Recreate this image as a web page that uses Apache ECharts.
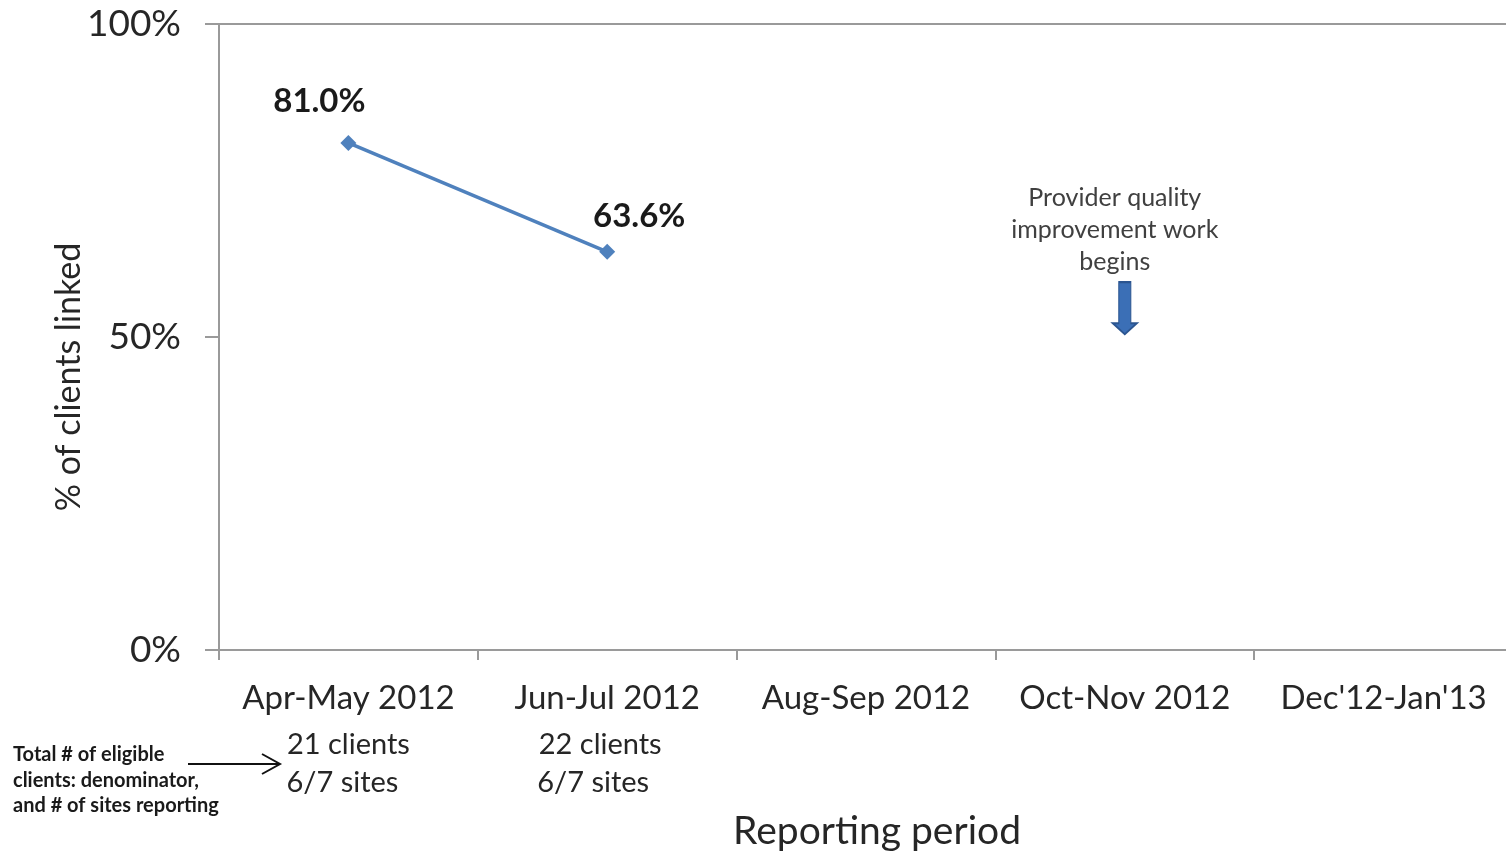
<!DOCTYPE html>
<html>
<head>
<meta charset="utf-8">
<script src="https://cdn.jsdelivr.net/npm/echarts@6/dist/echarts.min.js"></script>
<style>
html,body{margin:0;padding:0;background:#fff;overflow:hidden;}
#chart{width:1506px;height:853px;}
</style>
</head>
<body>
<div id="chart"></div>
<script>
const categories = ['Apr-May 2012', 'Jun-Jul 2012', 'Aug-Sep 2012', 'Oct-Nov 2012', "Dec'12-Jan'13"];
const pctLinked = [81.0, 63.6, null, null, null];
const clientCounts = [21, 22, null, null, null];
const sitesReporting = ['6/7', '6/7', null, null, null];
const yTicks = [0, 50, 100];
const annotationText = 'Provider quality\nimprovement work\nbegins';
const annotationCategory = 'Oct-Nov 2012';
const legendNote = 'Total # of eligible\nclients: denominator,\nand # of sites reporting';

const FONT = 'Lato';
const chart = echarts.init(document.getElementById('chart'), null, { width: 1506, height: 853 });

const option = {
  backgroundColor: '#fff',
  animation: false,
  textStyle: { fontFamily: FONT },
  grid: { left: 219, width: 1294, top: 24, height: 626, containLabel: false, outerBoundsMode: 'none' },
  xAxis: {
    type: 'category',
    data: categories,
    boundaryGap: true,
    axisLine: { lineStyle: { color: '#9a9a9a', width: 2 } },
    axisTick: { show: true, length: 10, lineStyle: { color: '#9a9a9a', width: 2 } },
    axisLabel: {
      margin: 26,
      color: '#262626',
      formatter: function (v, i) {
        if (clientCounts[i] != null) {
          const k = i === 0 ? 'a' : 'b';
          return '{c|' + v + '}\n{n' + k + '|' + clientCounts[i] + ' clients}\n{s' + k + '|' + sitesReporting[i] + ' sites}';
        }
        return '{c|' + v + '}';
      },
      rich: {
        c: { fontSize: 33, lineHeight: 44, color: '#262626', fontFamily: FONT },
        na: { fontSize: 29, lineHeight: 50, color: '#262626', fontFamily: FONT },
        sa: { fontSize: 29, lineHeight: 26, color: '#262626', fontFamily: FONT, padding: [0, 12, 0, 0] },
        nb: { fontSize: 29, lineHeight: 50, color: '#262626', fontFamily: FONT, padding: [0, 14, 0, 0] },
        sb: { fontSize: 29, lineHeight: 26, color: '#262626', fontFamily: FONT, padding: [0, 28, 0, 0] }
      }
    },
    name: 'Reporting period',
    nameLocation: 'middle',
    nameGap: 162,
    nameMoveOverlap: false,
    nameTextStyle: { fontSize: 39, color: '#262626', fontFamily: FONT, padding: [0, 0, 0, 22] }
  },
  yAxis: {
    type: 'value',
    min: 0, max: 100, interval: 50,
    axisLine: { show: true, lineStyle: { color: '#9a9a9a', width: 2 } },
    axisTick: { show: true, length: 14, lineStyle: { color: '#9a9a9a', width: 2 } },
    splitLine: { show: false },
    axisLabel: { formatter: '{value}%', fontSize: 37, color: '#262626', margin: 38, fontFamily: FONT },
    name: '% of clients linked',
    nameLocation: 'middle',
    nameGap: 133,
    nameMoveOverlap: false,
    nameRotate: 90,
    nameTextStyle: { fontSize: 34, color: '#262626', fontFamily: FONT, padding: [0, 80, 0, 0] }
  },
  series: [{
    type: 'line',
    data: pctLinked.map(function (v, i) {
      const offs = [[-29, -6], [32, 0]];
      return {
        value: v,
        label: { offset: offs[i] || [0, 0] }
      };
    }),
    connectNulls: false,
    symbol: 'diamond',
    symbolSize: 16,
    lineStyle: { color: '#4f81bd', width: 3.5 },
    itemStyle: { color: '#4f81bd' },
    label: {
      show: true,
      position: 'top',
      distance: 11,
      formatter: function (p) { return p.value == null ? '' : p.value.toFixed(1) + '%'; },
      fontSize: 33,
      fontWeight: 'bold',
      color: '#1a1a1a',
      fontFamily: FONT
    },
    markLine: {
      silent: true,
      symbol: 'none',
      label: { show: false },
      lineStyle: { color: '#9a9a9a', width: 2, type: 'solid' },
      data: [{ yAxis: 100 }]
    },
    markPoint: {
      silent: true,
      data: [
        {
          coord: [annotationCategory, 54.6],
          symbol: 'path://M3,0 L9,0 L9,30 L12,30 L6,38 L0,30 L3,30 Z',
          symbolSize: [24, 52],
          symbolKeepAspect: false,
          itemStyle: { color: '#3b6fb6', borderColor: '#2b5590', borderWidth: 1.5 },
          label: { show: false }
        },
        {
          coord: [annotationCategory, 67.1],
          symbol: 'circle',
          symbolSize: 0,
          label: {
            show: true,
            position: 'inside',
            offset: [-10, 0],
            formatter: annotationText,
            fontSize: 25,
            lineHeight: 32,
            color: '#404040',
            fontFamily: FONT,
            align: 'center'
          }
        }
      ]
    }
  }],
  graphic: [
    {
      type: 'text',
      left: 13,
      top: 742,
      style: {
        text: legendNote,
        font: 'bold 20px ' + FONT,
        lineHeight: 25.5,
        fill: '#1a1a1a'
      }
    },
    {
      type: 'polyline',
      shape: { points: [[188, 764], [280, 764]] },
      style: { stroke: '#111', lineWidth: 2, fill: null }
    },
    {
      type: 'polyline',
      shape: { points: [[262, 754], [280, 764], [262, 774]] },
      style: { stroke: '#111', lineWidth: 2, fill: null }
    }
  ]
};
chart.setOption(option);
</script>
</body>
</html>
